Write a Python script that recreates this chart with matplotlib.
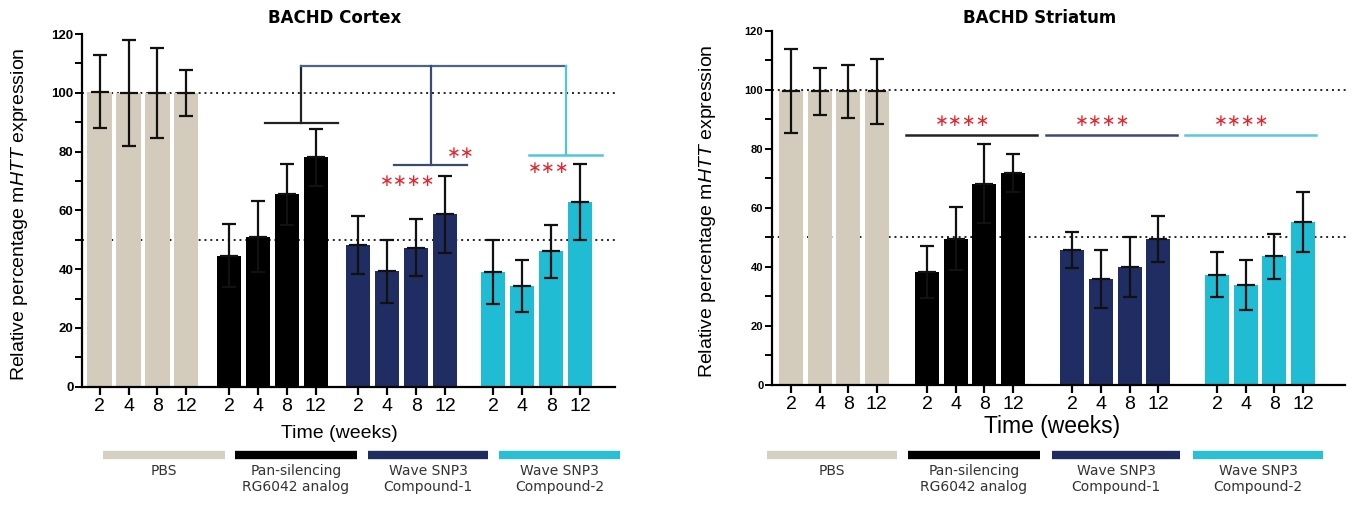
import numpy as np
import matplotlib
matplotlib.use("Agg")
from matplotlib import pyplot as plt
from matplotlib.lines import Line2D

plt.rcParams['font.family'] = ['Liberation Sans', 'DejaVu Sans']
plt.rcParams['mathtext.fontset'] = 'custom'
plt.rcParams['mathtext.rm'] = 'Liberation Sans'
plt.rcParams['mathtext.it'] = 'Liberation Sans:italic'

# data
weeks = ['2', '4', '8', '12']
groups = ['PBS', 'Pan-silencing\nRG6042 analog', 'Wave SNP3\nCompound-1', 'Wave SNP3\nCompound-2']
colors = ['#d3ccbc', '#000000', '#1f2d62', '#1fbcd3']
legend_colors = ['#d6d0c2', '#000000', '#1e2c5f', '#2bbfd5']

cortex_mean = [[100.4, 100.0, 100.0, 100.0],
               [44.6, 51.0, 65.4, 78.0],
               [48.2, 39.2, 47.3, 58.6],
               [39.0, 34.2, 46.0, 62.8]]
cortex_err = [[12.5, 18.0, 15.4, 7.9],
              [10.7, 12.1, 10.4, 9.7],
              [9.9, 10.6, 9.6, 13.1],
              [11.0, 8.8, 9.1, 12.8]]

striatum_mean = [[99.5, 99.5, 99.5, 99.5],
                 [38.4, 49.6, 68.2, 71.7],
                 [45.6, 35.9, 40.0, 49.5],
                 [37.3, 33.8, 43.6, 55.2]]
striatum_err = [[14.3, 7.9, 9.0, 11.0],
                [8.8, 10.8, 13.4, 6.4],
                [6.1, 9.7, 10.1, 7.9],
                [7.6, 8.5, 7.6, 10.0]]

W, H = 1356, 505
fig = plt.figure(figsize=(W / 100, H / 100), dpi=100)


def px(x0, y0, x1, y1):
    # pixel box (top-left origin) -> figure rect
    return [x0 / W, 1 - y1 / H, (x1 - x0) / W, (y1 - y0) / H]


def bar_panel(ax, means, errs, starts, xlim, tick_fs):
    for g in range(4):
        xs = starts[g] + np.arange(4)
        ax.bar(xs, means[g], width=0.84, color=colors[g], zorder=2)
        ax.errorbar(xs, means[g], yerr=errs[g], fmt='none', ecolor='#111111',
                    elinewidth=1.6, capsize=5, capthick=1.6, zorder=3)
        ax.plot(xs, means[g], ls='none', marker='_', ms=13, mew=1.6,
                color='#111111', zorder=3)
    for yv in (100, 50):
        ax.axhline(yv, color='#222222', lw=1.4, ls=(0, (1, 2)), zorder=1,
                   xmax=1.005, clip_on=False)
    ax.set_xlim(*xlim)
    ax.set_ylim(0, 120)
    ax.set_yticks(np.arange(0, 121, 20))
    ax.set_yticks(np.arange(10, 120, 20), minor=True)
    ticks = np.concatenate([starts[g] + np.arange(4) for g in range(4)])
    ax.set_xticks(ticks)
    ax.set_xticklabels(weeks * 4, fontsize=14)
    for lab in ax.get_yticklabels():
        lab.set_fontsize(tick_fs)
        lab.set_fontweight('bold')
    for s in ('top', 'right'):
        ax.spines[s].set_visible(False)
    for s in ('left', 'bottom'):
        ax.spines[s].set_linewidth(1.6)
    ax.tick_params(axis='x', length=6, width=1.6, pad=2)
    ax.tick_params(axis='y', which='both', length=5, width=1.4, pad=1)
    ax.set_ylabel(r'Relative percentage m$\it{HTT}$ expression', fontsize=14)


# ---- Cortex ----
cx_starts = [0, 4.48, 8.95, 13.62]
ax1 = fig.add_axes(px(82, 34, 615, 386.7))
bar_panel(ax1, cortex_mean, cortex_err, cx_starts, (-0.61, 17.83), 9.5)
ax1.yaxis.set_label_coords(-0.097, 0.49)

top = 109.2
link = '#4b6584'
ax1.plot([cx_starts[1] + 1.25, cx_starts[1] + 3.75], [89.8, 89.8], color='#222222', lw=1.6)
ax1.plot([cx_starts[1] + 2.5, cx_starts[1] + 2.5], [89.8, top], color='#222222', lw=1.6)
ax1.plot([cx_starts[1] + 2.5, cx_starts[3] + 2.5], [top, top], color=link, lw=1.6)
ax1.plot([cx_starts[2] + 1.25, cx_starts[2] + 3.75], [75.3, 75.3], color='#3b4a72', lw=1.6)
ax1.plot([cx_starts[2] + 2.5, cx_starts[2] + 2.5], [75.3, top], color='#3b4a72', lw=1.6)
ax1.plot([cx_starts[3] + 1.25, cx_starts[3] + 3.75], [78.8, 78.8], color='#4fc6da', lw=1.8)
ax1.plot([cx_starts[3] + 2.5, cx_starts[3] + 2.5], [78.8, top], color='#4fc6da', lw=1.6)
star_kw = dict(color='#e8232c', fontsize=12, ha='center', va='center', family='DejaVu Sans')
ax1.text(cx_starts[2] + 1.72, 70.0, '∗∗∗∗', **star_kw)
ax1.text(cx_starts[2] + 3.55, 79.6, '∗∗', **star_kw)
ax1.text(cx_starts[3] + 1.93, 74.3, '∗∗∗', **star_kw)

# ---- Striatum ----
st_starts = [0, 4.76, 9.84, 14.9]
ax2 = fig.add_axes(px(771.7, 30.7, 1345, 385))
bar_panel(ax2, striatum_mean, striatum_err, st_starts, (-0.675, 19.37), 8)
ax2.yaxis.set_label_coords(-0.093, 0.49)
line_spans = [(-0.75, 3.85), (-0.93, 3.67), (-1.13, 3.47)]
line_cols = ['#222222', '#3b4a72', '#5cc8dc']
for g in range(3):
    a, b = line_spans[g]
    s = st_starts[g + 1]
    ax2.plot([s + a, s + b], [84.7, 84.7], color=line_cols[g], lw=1.8)
    ax2.text(s + (a + b) / 2 - 0.3, 89.5, '∗∗∗∗', **star_kw)

# titles and x labels
fig.text(335 / W, 1 - 18 / H, 'BACHD Cortex', fontsize=12, fontweight='bold',
         family='DejaVu Sans', ha='center', va='center')
fig.text(1040 / W, 1 - 18 / H, 'BACHD Striatum', fontsize=12, fontweight='bold',
         family='DejaVu Sans', ha='center', va='center')
fig.text(339 / W, 1 - 433 / H, 'Time (weeks)', fontsize=14, ha='center', va='center')
fig.text(1052 / W, 1 - 427 / H, 'Time (weeks)', fontsize=16.5, ha='center', va='center')

# group legend bars under each panel
leg_spans = [[(103, 225), (235, 357), (368, 488), (499, 620)],
             [(767, 897), (908, 1040), (1052, 1180), (1193, 1323)]]
for spans in leg_spans:
    for g, (a, b) in enumerate(spans):
        fig.add_artist(Line2D([a / W, b / W], [1 - 455 / H, 1 - 455 / H],
                              color=legend_colors[g], lw=6, solid_capstyle='butt'))
        fig.text((a + b) / 2 / W, 1 - 464 / H, groups[g], fontsize=10,
                 family='DejaVu Sans', color='#333333', ha='center', va='top',
                 linespacing=1.2)

fig.savefig('out.png', dpi=100)
